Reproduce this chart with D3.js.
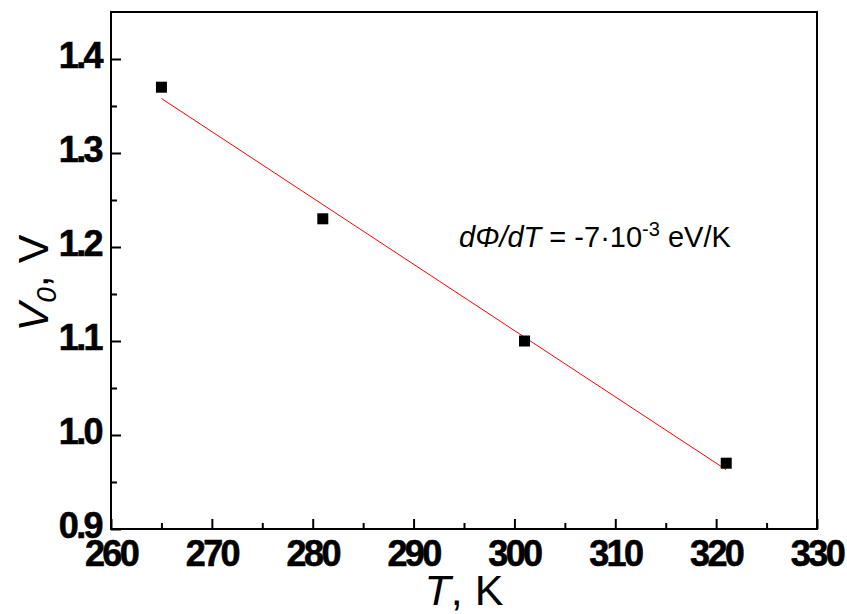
<!DOCTYPE html>
<html>
<head>
<meta charset="utf-8">
<script src="https://cdn.jsdelivr.net/npm/d3@7"></script>
<style>
  body { margin: 0; background: #fff; }
  svg { display: block; }
  .tick-label { font-family: "Liberation Sans", Arial, sans-serif; font-weight: bold; font-size: 36px; letter-spacing: -2.6px; fill: #000; stroke: #000; stroke-width: 0.6px; }
  .title { font-family: "Liberation Sans", Arial, sans-serif; font-size: 43px; fill: #000; }
  .note { font-family: "Liberation Sans", Arial, sans-serif; font-size: 29px; fill: #000; }
</style>
</head>
<body>
<div id="chart"></div>
<script>
'use strict';

// Measured points: temperature (K) and V0 (V)
var temps = [265, 281, 301, 321];
var volts = [1.37, 1.23, 1.10, 0.97];

// Linear fit line at its two ends
var fitT = [265, 321];
var fitV = [1.358, 0.963];

// Axis ticks
var xTicks = [260, 270, 280, 290, 300, 310, 320, 330];
var xMinor = [265, 275, 285, 295, 305, 315, 325];
var yTicks = [0.9, 1.0, 1.1, 1.2, 1.3, 1.4];
var yMinor = [0.95, 1.05, 1.15, 1.25, 1.35];

var width = 847, height = 614;
var margin = {top: 12, right: 30, bottom: 85, left: 111};
var chartW = width - margin.left - margin.right;
var chartH = height - margin.top - margin.bottom;

var svg = d3.select('#chart').append('svg')
    .attr('width', width)
    .attr('height', height);

var inner = svg.append('g')
    .attr('transform', translation(margin.left, margin.top));

var xScale = d3.scaleLinear().domain([260, 330]).range([0, chartW]);
var yScale = d3.scaleLinear().domain([0.9, 1.45]).range([chartH, 0]);

// Ticks point inward, labels drawn separately so we can place them freely.
var xAxis = d3.axisBottom(xScale).tickValues(xTicks).tickSize(-10).tickFormat('');
var xAxisMinor = d3.axisBottom(xScale).tickValues(xMinor).tickSize(-6).tickFormat('');
var yAxis = d3.axisLeft(yScale).tickValues(yTicks).tickSize(-10).tickFormat('');
var yAxisMinor = d3.axisLeft(yScale).tickValues(yMinor).tickSize(-6).tickFormat('');

function styleAxis(g) {
  g.select('.domain').remove();
  g.selectAll('line').attr('stroke', '#000').attr('stroke-width', 2);
}

inner.append('g').attr('transform', translation(0, chartH)).call(xAxis).call(styleAxis);
inner.append('g').attr('transform', translation(0, chartH)).call(xAxisMinor).call(styleAxis);
inner.append('g').call(yAxis).call(styleAxis);
inner.append('g').call(yAxisMinor).call(styleAxis);

// Frame
inner.append('rect')
    .attr('width', chartW)
    .attr('height', chartH)
    .attr('fill', 'none')
    .attr('stroke', '#000')
    .attr('stroke-width', 2);

// Tick labels
inner.selectAll('.x-label').data(xTicks).enter()
  .append('text')
    .attr('class', 'tick-label')
    .attr('x', function(d) { return xScale(d); })
    .attr('y', chartH + 37)
    .attr('text-anchor', 'middle')
    .text(function(d) { return d; });

inner.selectAll('.y-label').data(yTicks).enter()
  .append('text')
    .attr('class', 'tick-label')
    .attr('x', -10)
    .attr('y', function(d) { return yScale(d) + 9; })
    .attr('text-anchor', 'end')
    .text(function(d) { return d3.format('.1f')(d); });

// Fit line
var fitData = fitT.map(function(t, i) { return {t: t, v: fitV[i]}; });
inner.append('path')
    .datum(fitData)
    .attr('fill', 'none')
    .attr('stroke', '#ff0000')
    .attr('stroke-width', 1)
    .attr('d', d3.line()
        .x(function(d) { return xScale(d.t); })
        .y(function(d) { return yScale(d.v); }));

// Data squares
var sq = 11;
inner.selectAll('.pt').data(temps).enter()
  .append('rect')
    .attr('x', function(d) { return xScale(d) - sq / 2; })
    .attr('y', function(d, i) { return yScale(volts[i]) - sq / 2; })
    .attr('width', sq)
    .attr('height', sq)
    .attr('fill', '#000');

// Annotation
var note = svg.append('text')
    .attr('class', 'note')
    .attr('x', 459)
    .attr('y', 247);
note.append('tspan').attr('font-style', 'italic').text('d\u03A6/dT');
note.append('tspan').text(' = -7\u00B710');
note.append('tspan').attr('font-size', '20px').attr('dy', -11).text('-3');
note.append('tspan').attr('dy', 11).text(' eV/K');

// Axis titles
var xt = svg.append('text')
    .attr('class', 'title')
    .attr('x', margin.left + chartW / 2)
    .attr('y', 605)
    .attr('text-anchor', 'middle');
xt.append('tspan').attr('font-style', 'italic').text('T');
xt.append('tspan').text(', K');

var yt = svg.append('text')
    .attr('class', 'title')
    .attr('transform', 'translate(48,283) rotate(-90)')
    .attr('text-anchor', 'middle');
yt.append('tspan').attr('font-style', 'italic').text('V');
yt.append('tspan').attr('font-style', 'italic').attr('font-size', '28px').attr('dy', 8).text('0');
yt.append('tspan').attr('dy', -8).text(', V');

function translation(x, y) {
  return 'translate(' + x + ',' + y + ')';
}
</script>
</body>
</html>
